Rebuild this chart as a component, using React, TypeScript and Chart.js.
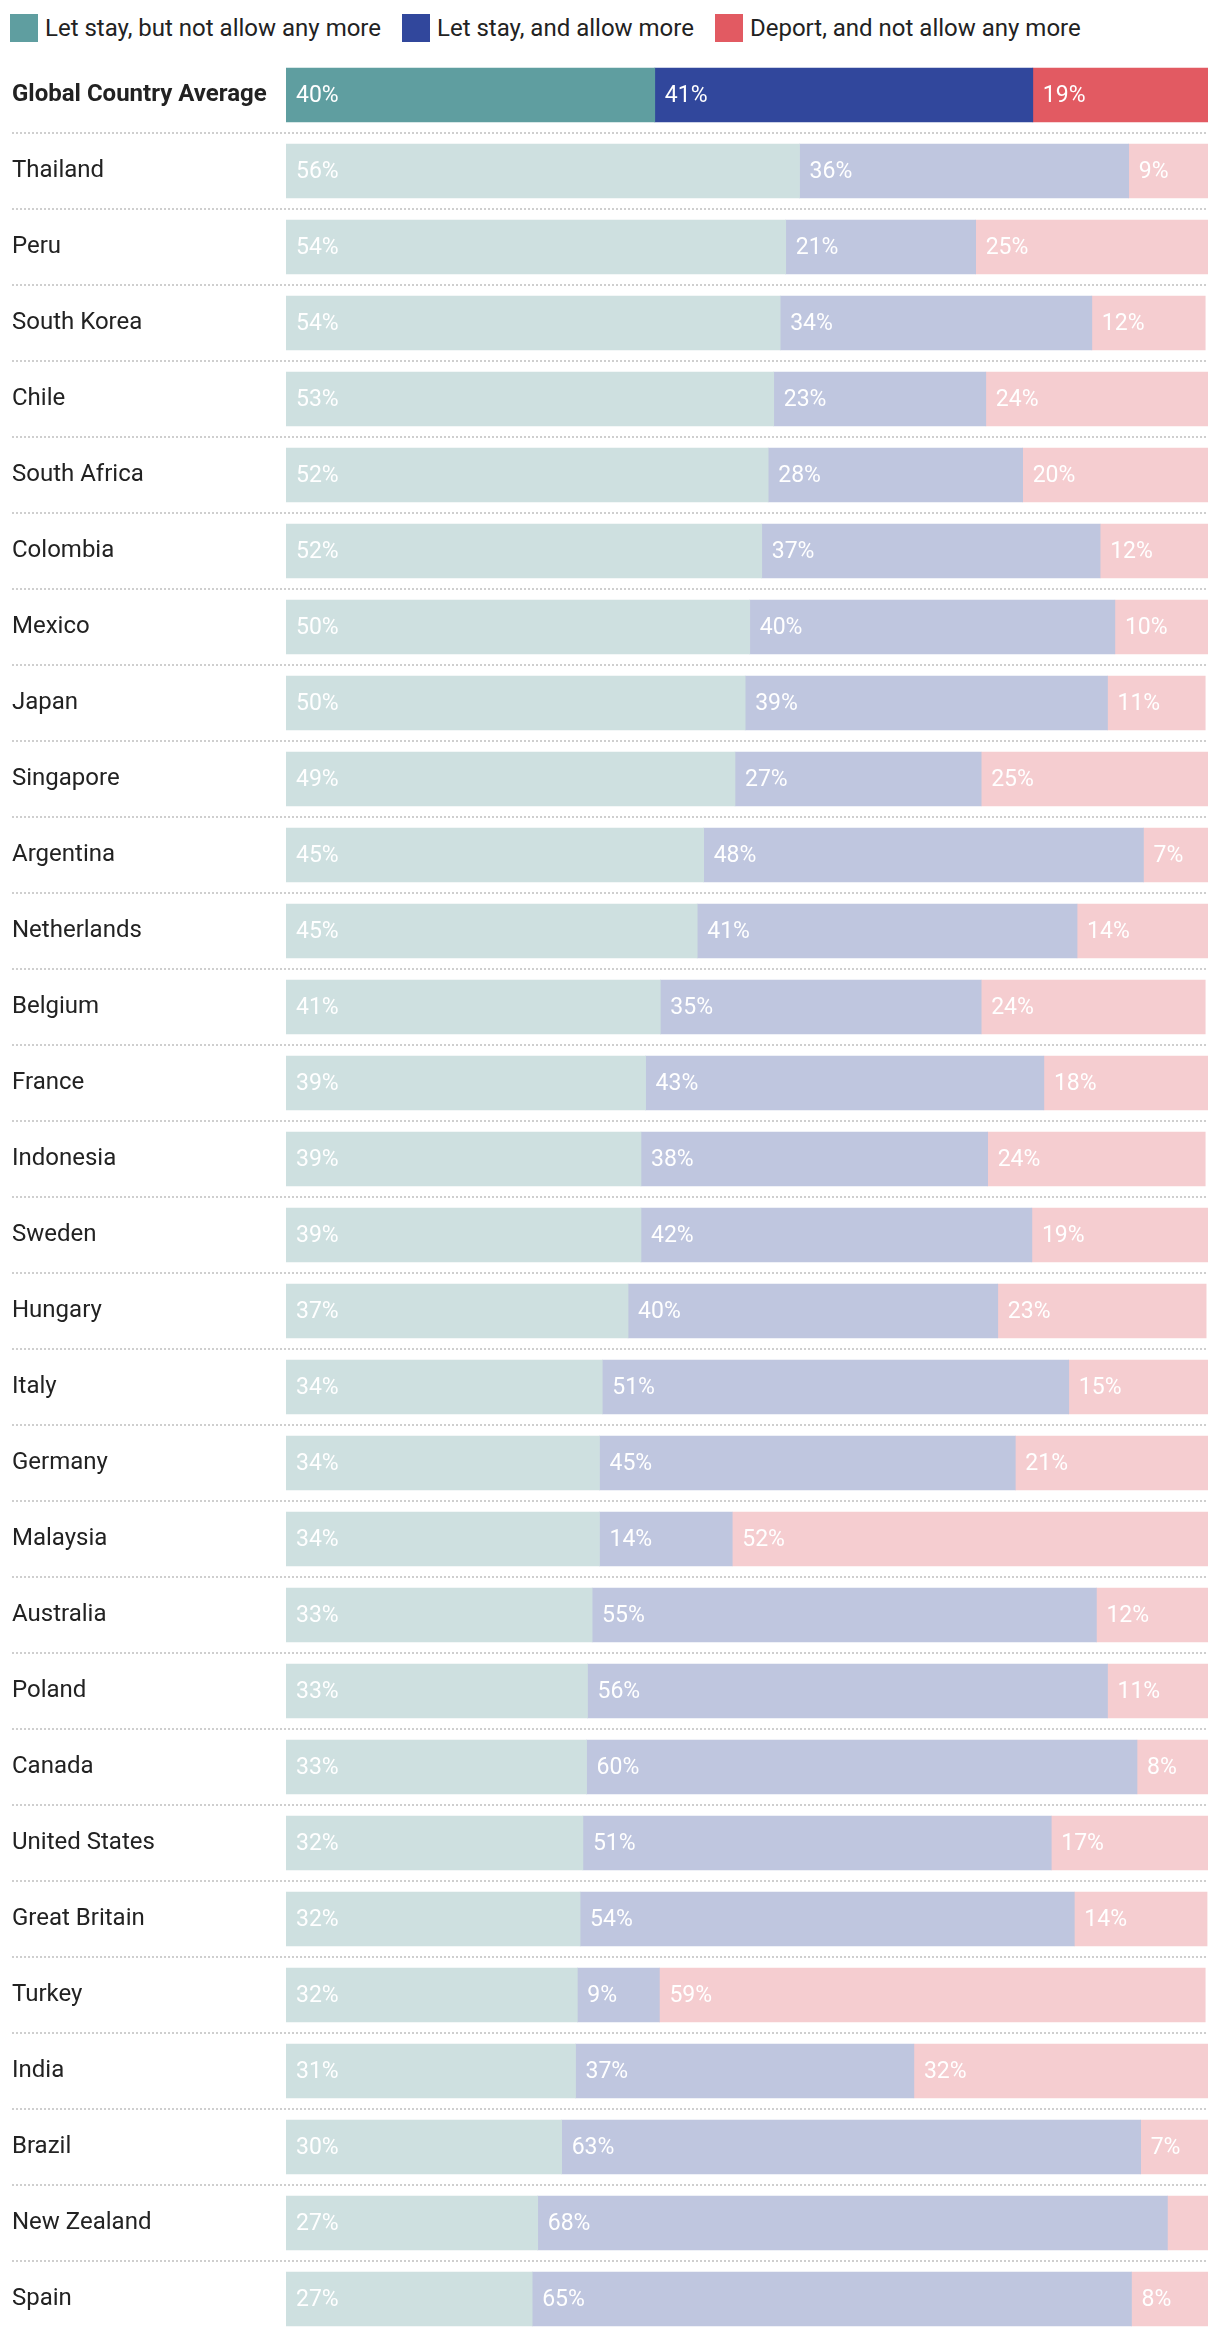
import React, { useEffect, useRef } from "react";
import { Chart, registerables } from "chart.js";

Chart.register(...registerables);

const categories = [
  "Global Country Average", "Thailand", "Peru", "South Korea", "Chile", "South Africa",
  "Colombia", "Mexico", "Japan", "Singapore", "Argentina", "Netherlands", "Belgium",
  "France", "Indonesia", "Sweden", "Hungary", "Italy", "Germany", "Malaysia",
  "Australia", "Poland", "Canada", "United States", "Great Britain", "Turkey",
  "India", "Brazil", "New Zealand", "Spain",
];

const letStayNoMore = [
  40, 55.7, 54.2, 53.6, 52.9, 52.3, 51.6, 50.3, 49.8, 48.7, 45.3, 44.6, 40.6, 39.0, 38.5,
  38.5, 37.1, 34.3, 34.0, 34.0, 33.2, 32.7, 32.6, 32.2, 31.9, 31.6, 31.4, 29.9, 27.3, 26.7,
];

const letStayAllowMore = [
  41, 35.7, 20.6, 33.8, 23.0, 27.6, 36.7, 39.6, 39.3, 26.7, 47.7, 41.2, 34.8, 43.2, 37.6,
  42.4, 40.1, 50.6, 45.1, 14.4, 54.7, 56.4, 59.7, 50.8, 53.6, 8.9, 36.7, 62.8, 68.3, 65.0,
];

const deportNoMore = [
  19, 8.6, 25.2, 12.3, 24.1, 20.1, 11.7, 10.1, 10.6, 24.6, 7.0, 14.2, 24.3, 17.8, 23.6,
  19.1, 22.6, 15.1, 20.9, 51.6, 12.1, 10.9, 7.7, 17.0, 14.4, 59.2, 31.9, 7.3, 4.4, 8.3,
];

const seriesNames = [
  "Let stay, but not allow any more",
  "Let stay, and allow more",
  "Deport, and not allow any more",
];

const fullColors = ["#5F9EA0", "#31479C", "#E25A62"];
const fadedColors = ["#CEE0E0", "#BFC6DF", "#F5CDD0"];

const FONT = "Roboto, 'Noto Sans', sans-serif";

const labelPlugin = {
  id: "segmentLabels",
  afterDatasetsDraw(chart: any) {
    const ctx = chart.ctx;
    ctx.save();
    ctx.font = `400 23px ${FONT}`;
    ctx.fillStyle = "#ffffff";
    ctx.textAlign = "left";
    ctx.textBaseline = "middle";
    chart.data.datasets.forEach((ds: any, di: number) => {
      const meta = chart.getDatasetMeta(di);
      meta.data.forEach((el: any, i: number) => {
        const v = ds.data[i];
        if (v < 5) return;
        const p = el.getProps(["x", "y", "base"], true);
        const start = Math.min(p.x, p.base);
        ctx.fillText(`${Math.round(v)}%`, start + 10, p.y + 1);
      });
    });
    ctx.restore();
  },
};

const separatorPlugin = {
  id: "separators",
  beforeDatasetsDraw(chart: any) {
    const ctx = chart.ctx;
    const y = chart.scales.y;
    const right = chart.chartArea.right;
    ctx.save();
    ctx.strokeStyle = "#cfcfcf";
    ctx.lineWidth = 2;
    ctx.setLineDash([2, 2]);
    for (let i = 0; i < categories.length - 1; i++) {
      const yy = Math.round((y.getPixelForValue(i) + y.getPixelForValue(i + 1)) / 2);
      ctx.beginPath();
      ctx.moveTo(12, yy);
      ctx.lineTo(right, yy);
      ctx.stroke();
    }
    ctx.restore();
  },
};

export default function App() {
  const canvasRef = useRef<HTMLCanvasElement | null>(null);

  useEffect(() => {
    if (!canvasRef.current) return;
    Chart.defaults.font.family = FONT;
    const seriesData = [letStayNoMore, letStayAllowMore, deportNoMore];
    const chart = new Chart(canvasRef.current, {
      type: "bar",
      data: {
        labels: categories,
        datasets: seriesData.map((d, si) => ({
          label: seriesNames[si],
          data: d,
          backgroundColor: categories.map((_, i) => (i === 0 ? fullColors[si] : fadedColors[si])),
          borderWidth: 0,
          barThickness: 54,
        })),
      },
      options: {
        indexAxis: "y",
        responsive: false,
        animation: false,
        layout: { padding: { left: 12, right: 12, top: 57, bottom: 1 } },
        plugins: {
          legend: { display: false },
          tooltip: { enabled: false },
        },
        scales: {
          x: {
            stacked: true,
            min: 0,
            max: 100,
            display: false,
          },
          y: {
            stacked: true,
            grid: { display: false, drawTicks: false },
            border: { display: false },
            afterFit: (scale: any) => {
              scale.width = 274;
              scale.paddingTop = 0;
              scale.paddingBottom = 0;
            },
            ticks: {
              crossAlign: "far",
              padding: 0,
              color: "#222222",
              font: (ctx: any) => ({
                family: FONT,
                size: 24,
                weight: ctx.index === 0 ? "bold" : "normal",
              }),
            },
          },
        },
      } as any,
      plugins: [separatorPlugin, labelPlugin],
    });
    return () => chart.destroy();
  }, []);

  return (
    <div style={{ position: "absolute", top: 0, left: 0, width: 1220, height: 2338, background: "#fff" }}>
      <div
        style={{
          position: "absolute",
          top: 14,
          left: 10,
          display: "flex",
          alignItems: "center",
          fontFamily: FONT,
          fontSize: 24,
          color: "#222",
          lineHeight: "28px",
        }}
      >
        {seriesNames.map((n, i) => (
          <div key={n} style={{ display: "flex", alignItems: "center", marginRight: 21 }}>
            <span style={{ display: "inline-block", width: 28, height: 28, background: fullColors[i], marginRight: 7 }} />
            <span>{n}</span>
          </div>
        ))}
      </div>
      <canvas ref={canvasRef} width={1220} height={2338} style={{ position: "absolute", top: 0, left: 0 }} />
    </div>
  );
}
